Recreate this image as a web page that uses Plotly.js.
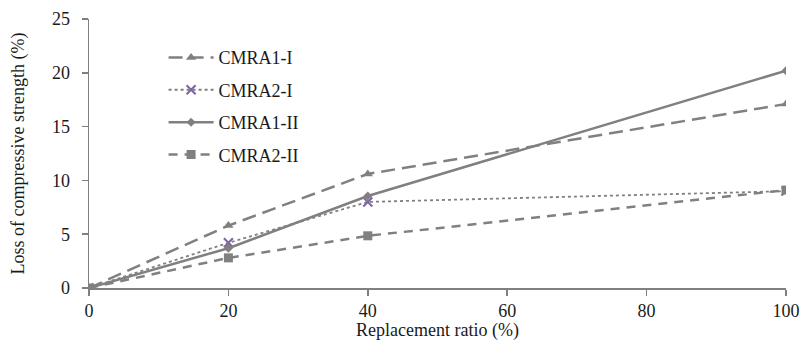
<!DOCTYPE html>
<html>
<head>
<meta charset="utf-8">
<script src="https://cdn.plot.ly/plotly-3.0.1.min.js"></script>
<style>
  html, body { margin: 0; padding: 0; background: #fff; }
  #chart { width: 802px; height: 341px; }
</style>
</head>
<body>
<div id="chart"></div>
<script>
// Replacement ratio (%) on the x axis
const replacementRatio = [0, 20, 40, 100];

// Loss of compressive strength (%) for each mix series
const cmra1I  = [0, 5.8, 10.6, 17.1];
const cmra2I  = [0, 4.2, 8.0, 9.0];
const cmra1II = [0, 3.7, 8.55, 20.2];
const cmra2II = [0, 2.8, 4.85, 9.1];

const seriesNames = ['CMRA1-I', 'CMRA2-I', 'CMRA1-II', 'CMRA2-II'];

const grey = '#808080';
const purple = '#7f63a8';
const serif = 'Times New Roman';
const textColor = '#1a1a1a';

const traces = [
  {
    x: replacementRatio, y: cmra1I, name: seriesNames[0], legendgroup: 'a',
    mode: 'lines+markers', type: 'scatter',
    line: { color: grey, width: 2.5, dash: '14px,7px' },
    marker: { symbol: 'triangle-up', size: 9, color: grey }
  },
  {
    x: replacementRatio, y: cmra2I, name: seriesNames[1], legendgroup: 'b',
    mode: 'lines+markers', type: 'scatter',
    line: { color: grey, width: 1.8, dash: 'dot' },
    marker: { symbol: 'x-thin', size: 9, color: purple, line: { color: purple, width: 2 } }
  },
  {
    x: replacementRatio, y: cmra1II, name: seriesNames[2], legendgroup: 'c',
    mode: 'lines+markers', type: 'scatter',
    line: { color: grey, width: 2.5 },
    marker: { symbol: 'diamond', size: 7, color: grey }
  },
  {
    x: replacementRatio, y: cmra2II, name: seriesNames[3], legendgroup: 'd',
    mode: 'lines+markers', type: 'scatter',
    line: { color: grey, width: 2.5, dash: '9px,7px' },
    marker: { symbol: 'square', size: 9, color: grey }
  }
];

const layout = {
  width: 802, height: 341,
  margin: { l: 89, r: 16, t: 19, b: 53 },
  paper_bgcolor: '#fff', plot_bgcolor: '#fff',
  font: { family: serif, size: 18, color: textColor },
  showlegend: true,
  legend: {
    x: 0.107, y: 0.925, xanchor: 'left', yanchor: 'top',
    bgcolor: 'rgba(0,0,0,0)',
    font: { family: serif, size: 18, color: textColor },
    itemwidth: 45,
    tracegroupgap: 6
  },
  xaxis: {
    range: [0, 100], tickvals: [0, 20, 40, 60, 80, 100],
    showgrid: false, zeroline: false,
    showline: true, linecolor: grey, linewidth: 1.5,
    ticks: 'outside', ticklen: 6, tickcolor: grey, tickwidth: 1.5,
    tickfont: { family: serif, size: 18, color: textColor },
    title: { text: 'Replacement ratio (%)', font: { family: serif, size: 18, color: textColor }, standoff: 6 }
  },
  yaxis: {
    range: [0, 25], tickvals: [0, 5, 10, 15, 20, 25],
    showgrid: false, zeroline: false,
    showline: true, linecolor: grey, linewidth: 1.5,
    ticks: 'outside', ticklen: 6, tickcolor: grey, tickwidth: 1.5,
    ticklabelstandoff: 8,
    tickfont: { family: serif, size: 18, color: textColor },
    title: { text: 'Loss of compressive strength (%)', font: { family: serif, size: 18, color: textColor }, standoff: 22 }
  }
};

Plotly.newPlot('chart', traces, layout, { staticPlot: true, displayModeBar: false });
</script>
</body>
</html>
